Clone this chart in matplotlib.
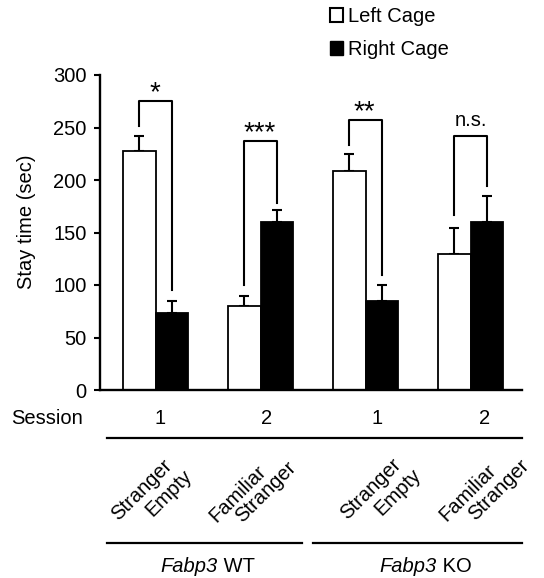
import matplotlib
matplotlib.use("Agg")
import matplotlib.pyplot as plt
from matplotlib.lines import Line2D
from matplotlib.patches import Patch
import numpy as np

plt.rcParams['font.family'] = ['Liberation Sans', 'DejaVu Sans']

# ---------------- data ----------------
series_names = ["Left Cage", "Right Cage"]
left_vals = [228, 80, 209, 130]
left_err = [14, 10, 16, 24]
right_vals = [73, 160, 85, 160]
right_err = [12, 11, 15, 25]
sessions = ["1", "2", "1", "2"]
conditions = [("Stranger", "Empty"), ("Familiar", "Stranger"),
              ("Stranger", "Empty"), ("Familiar", "Stranger")]
genotypes = ["WT", "KO"]
gene = "Fabp3"
sig_labels = ["*", "***", "**", "n.s."]
bracket_top = [275, 237, 257, 242]
bracket_left_bottom = [251, 100, 233, 167]
bracket_right_bottom = [95, 178, 110, 194]
y_ticks = [0, 50, 100, 150, 200, 250, 300]

# ---------------- layout ----------------
W, H = 544, 578
fig = plt.figure(figsize=(W / 100, H / 100), dpi=100)

def fx(p):
    return p / W

def fy(p):
    return 1 - p / H

ax = fig.add_axes([fx(100), fy(390), fx(522) - fx(100), fy(75) - fy(390)])

x = np.arange(len(left_vals))
bw = 0.31
fs = 14.5

ax.bar(x - bw / 2, left_vals, bw, color='white', edgecolor='black',
       linewidth=1.3, label=series_names[0], zorder=2)
ax.bar(x + bw / 2, right_vals, bw, color='black', edgecolor='black',
       linewidth=1.3, label=series_names[1], zorder=2)
ax.errorbar(x - bw / 2, left_vals, yerr=[np.zeros(len(x)), left_err], fmt='none',
            ecolor='black', elinewidth=1.5, capsize=3.3, capthick=1.5, zorder=1)
ax.errorbar(x + bw / 2, right_vals, yerr=[np.zeros(len(x)), right_err], fmt='none',
            ecolor='black', elinewidth=1.5, capsize=3.3, capthick=1.5, zorder=1)

# significance brackets
for i in range(len(x)):
    xl, xr = x[i] - bw / 2, x[i] + bw / 2
    ax.plot([xl, xl, xr, xr],
            [bracket_left_bottom[i], bracket_top[i], bracket_top[i], bracket_right_bottom[i]],
            color='black', lw=1.5, zorder=3, clip_on=False)
    lab = sig_labels[i]
    if lab == "n.s.":
        ax.text(x[i], bracket_top[i] + 9, lab, ha='center', va='baseline',
                fontsize=fs, clip_on=False)
    else:
        ax.text(x[i] - 0.01, bracket_top[i] + 1, lab, ha='center', va='baseline',
                fontsize=20, clip_on=False)

ax.set_xlim(-0.53, 3.49)
ax.set_ylim(0, 300)
ax.set_yticks(y_ticks)
ax.set_xticks([])
ax.tick_params(axis='y', labelsize=fs, length=4, width=1.5, pad=5.5, direction='out')
for s in ['top', 'right']:
    ax.spines[s].set_visible(False)
for s in ['left', 'bottom']:
    ax.spines[s].set_linewidth(1.7)

ax.set_ylabel("Stay time (sec)", fontsize=fs)
ax.yaxis.set_label_coords(-0.152, 0.535)

# legend
ax.legend(handles=[Patch(facecolor='white', edgecolor='black', linewidth=1.5),
                   Patch(facecolor='black', edgecolor='black')],
          labels=series_names, loc='upper left',
          bbox_to_anchor=(fx(330), fy(7)), bbox_transform=fig.transFigure,
          frameon=False, fontsize=fs, handlelength=0.65, handleheight=0.65,
          handletextpad=0.25, labelspacing=0.7, borderpad=0, borderaxespad=0)

# session row
fig.text(fx(47), fy(418), "Session", ha='center', va='center', fontsize=fs)
session_px = [160, 267, 377, 485]
for s, px in zip(sessions, session_px):
    fig.text(fx(px), fy(418), s, ha='center', va='center', fontsize=fs)

def hline(x0, x1, y):
    fig.add_artist(Line2D([fx(x0), fx(x1)], [fy(y), fy(y)], color='black',
                          lw=1.6, transform=fig.transFigure))

hline(107, 522, 438)

# condition labels (two rotated lines each)
cond_px = [((142, 490), (169, 493)), ((238, 494), (266, 492)),
           ((371, 489), (398, 492)), ((468, 493), (499, 490))]
for (l1, l2), (p1, p2) in zip(conditions, cond_px):
    fig.text(fx(p1[0]), fy(p1[1]), l1, rotation=45, ha='center', va='center',
             rotation_mode='anchor', fontsize=fs)
    fig.text(fx(p2[0]), fy(p2[1]), l2, rotation=45, ha='center', va='center',
             rotation_mode='anchor', fontsize=fs)

# genotype row
hline(107, 302, 543)
hline(313, 522, 543)
geno_split_px = [218, 437]
for g, px in zip(genotypes, geno_split_px):
    fig.text(fx(px), fy(566), gene, ha='right', va='center', fontsize=fs,
             style='italic')
    fig.text(fx(px), fy(566), " " + g, ha='left', va='center', fontsize=fs)

fig.savefig("out.png", dpi=100)
